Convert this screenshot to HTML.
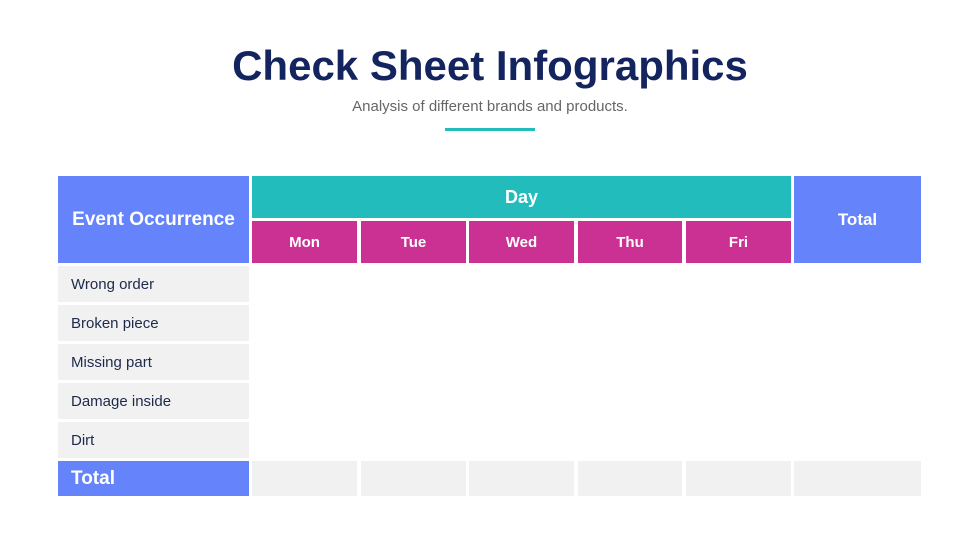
<!DOCTYPE html><html><head><style>
body{margin:0;width:980px;height:551px;background:#fff;position:relative;font-family:"Liberation Sans",sans-serif;overflow:hidden}
.b{position:absolute;box-sizing:border-box}
.t{display:flex;align-items:center;justify-content:center;color:#fff;font-weight:bold}
.l{display:flex;align-items:center;padding-left:13px;color:#1e2a4a;font-size:15px;background:#f1f1f1}
</style></head><body>
<div class="b" style="left:0;top:42px;width:980px;text-align:center;font-size:42px;font-weight:bold;color:#13245e">Check Sheet Infographics</div>
<div class="b" style="left:0;top:98px;width:980px;text-align:center;font-size:15px;color:#666">Analysis of different brands and products.</div>
<div class="b" style="left:445px;top:128px;width:90px;height:3px;background:#22bcbd"></div>
<div class="b t" style="left:58px;top:176px;width:191px;height:87px;background:#6583fb;font-size:19px">Event Occurrence</div>
<div class="b t" style="left:252px;top:176px;width:539px;height:42px;background:#22bcbd;font-size:18px">Day</div>
<div class="b t" style="left:794px;top:176px;width:127px;height:87px;background:#6583fb;font-size:17px">Total</div>
<div class="b t" style="left:252px;top:221px;width:105px;height:42px;background:#cb3193;font-size:15px">Mon</div>
<div class="b t" style="left:361px;top:221px;width:105px;height:42px;background:#cb3193;font-size:15px">Tue</div>
<div class="b t" style="left:469px;top:221px;width:105px;height:42px;background:#cb3193;font-size:15px">Wed</div>
<div class="b t" style="left:578px;top:221px;width:104px;height:42px;background:#cb3193;font-size:15px">Thu</div>
<div class="b t" style="left:686px;top:221px;width:105px;height:42px;background:#cb3193;font-size:15px">Fri</div>
<div class="b l" style="left:58px;top:266px;width:191px;height:36px">Wrong order</div>
<div class="b l" style="left:58px;top:305px;width:191px;height:36px">Broken piece</div>
<div class="b l" style="left:58px;top:344px;width:191px;height:36px">Missing part</div>
<div class="b l" style="left:58px;top:383px;width:191px;height:36px">Damage inside</div>
<div class="b l" style="left:58px;top:422px;width:191px;height:36px">Dirt</div>
<div class="b l" style="left:58px;top:461px;width:191px;height:35px;background:#6583fb;color:#fff;font-weight:bold;font-size:19px">Total</div>
<div class="b" style="left:252px;top:461px;width:105px;height:35px;background:#f1f1f1"></div>
<div class="b" style="left:361px;top:461px;width:105px;height:35px;background:#f1f1f1"></div>
<div class="b" style="left:469px;top:461px;width:105px;height:35px;background:#f1f1f1"></div>
<div class="b" style="left:578px;top:461px;width:104px;height:35px;background:#f1f1f1"></div>
<div class="b" style="left:686px;top:461px;width:105px;height:35px;background:#f1f1f1"></div>
<div class="b" style="left:794px;top:461px;width:127px;height:35px;background:#f1f1f1"></div>
</body></html>
